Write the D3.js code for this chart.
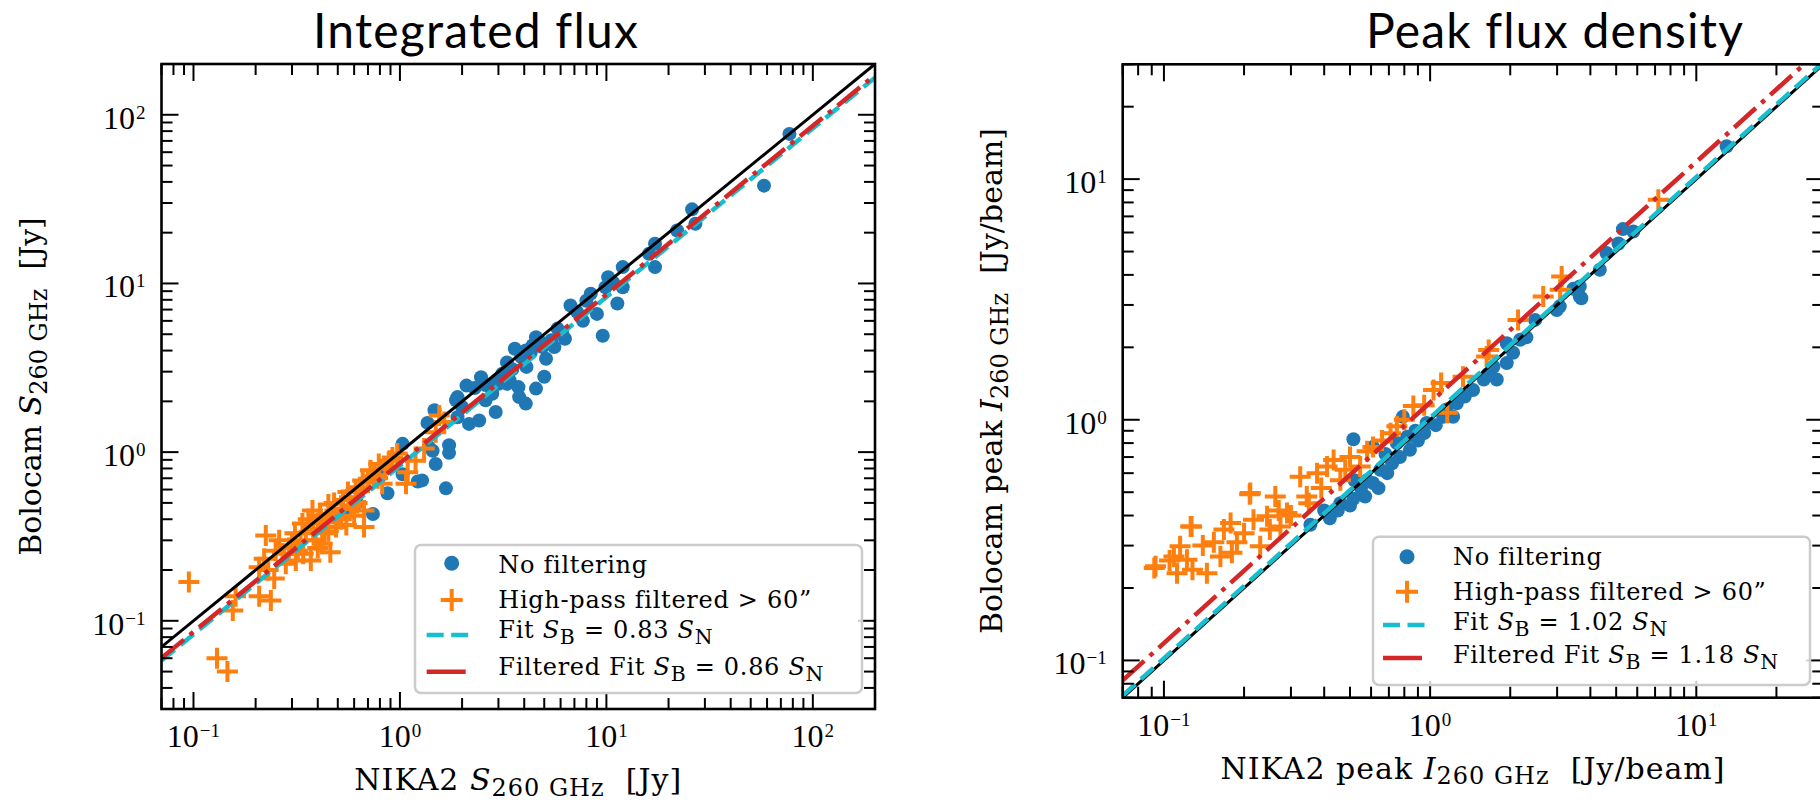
<!DOCTYPE html>
<html><head><meta charset="utf-8">
<script src="https://cdn.jsdelivr.net/npm/d3@7/dist/d3.min.js"></script>
<style>body{margin:0;background:#fff}text{white-space:pre}</style>
</head><body>
<svg id="c" width="1820" height="803" xmlns="http://www.w3.org/2000/svg"></svg>
<script>
// ---------------- DATA ----------------
// Integrated flux: [NIKA2, Bolocam] in Jy
const intNoFilt = [
 [77,77],[58,38],[26,27.5],[27,22.6],[22,20.6],[17.2,17.2],[16.1,15],[17.2,12.5],[12,12.5],[10.2,10.9],
 [9.9,9.5],[12,9.5],[8.4,8.7],[11.3,7.6],[6.7,7.4],[9,6.6],[9.6,4.9],[7.7,6.0],[6.1,5.1],[5.4,4.6],
 [4.56,4.8],[4.4,4.3],[6.3,4.7],[5.0,2.8],[3.87,3.66],[3.6,4.1],[4.1,3.2],[3.4,2.66],[3.75,2.43],[4.56,2.38],
 [3.0,2.54],[2.47,2.78],[2.1,2.48],[1.9,2.12],[5.1,3.58],[4.07,4.0],[4.07,1.94],[3.78,2.12],[3.3,2.54],[3.13,2.92],
 [2.91,1.73],[2.6,2.03],[2.8,2.22],[2.42,1.54],[2.16,1.47],[1.87,2.03],[2.0,1.85],[1.9,1.61],[1.47,1.77],[1.36,1.49],
 [1.73,1.1],[1.73,0.99],[1.44,1.02],[1.49,0.85],[1.03,1.12],[1.22,0.67],[1.67,0.61],[0.87,0.57],[1.03,0.74],[0.74,0.43],
 [1.38,1.07],[1.28,0.68],[4.8,4.5],[5.8,5.4],[7.2,6.8],[3.3,3.4],[2.3,2.4],[0.62,0.5],[0.55,0.45],[0.8,0.72],
 [4.3,3.9],[4.9,4.2],[5.6,4.2],[3.5,3.1],[2.6,2.5],[8.0,7.9],[10.8,10.1],[2.9,2.6]
];
const intFilt = [
 [0.095,0.17],[0.13,0.06],[0.146,0.05],[0.155,0.115],[0.16,0.14],[0.208,0.14],[0.237,0.132],[0.246,0.178],[0.224,0.32],[0.22,0.233],
 [0.208,0.208],[0.25,0.26],[0.28,0.218],[0.313,0.228],[0.37,0.228],[0.30,0.28],[0.337,0.377],[0.377,0.45],[0.46,0.255],[0.42,0.286],
 [0.45,0.49],[0.49,0.36],[0.52,0.46],[0.57,0.54],[0.61,0.59],[0.60,0.42],[0.67,0.36],[0.67,0.45],[0.66,0.68],[0.72,0.78],
 [0.79,0.85],[0.82,0.65],[0.89,0.89],[0.97,0.98],[1.07,0.65],[1.09,0.76],[1.19,0.89],[1.31,1.05],[1.49,1.31],[1.64,1.51],
 [1.55,1.65],[0.26,0.3],[0.29,0.27],[0.31,0.33],[0.33,0.3],[0.35,0.33],[0.36,0.4],[0.38,0.35],[0.4,0.38],[0.41,0.42],
 [0.43,0.33],[0.44,0.4],[0.47,0.43],[0.48,0.5],[0.5,0.41],[0.53,0.52],[0.55,0.37],[0.56,0.58],[0.58,0.48],[0.62,0.5],
 [0.64,0.62],[0.7,0.66],[0.75,0.72],[0.78,0.7],[0.85,0.8],[0.92,0.93],[0.23,0.2],[0.27,0.25],[0.32,0.26],[0.39,0.3],
 [0.45,0.34],[0.52,0.4],[0.34,0.25],[0.4,0.27]
];
// Peak flux density: [NIKA2, Bolocam] in Jy/beam
const peakNoFilt = [
 [13,13.7],[5.8,6.06],[5.3,6.2],[5.1,5.4],[4.6,4.93],[4.34,4.2],[3.65,3.58],[3.7,3.2],[3.45,3.5],[3.07,2.96],
 [0.515,0.83],[0.42,0.39],[0.355,0.366],[0.46,0.45],[0.515,0.47],[0.57,0.48],[0.61,0.546],[0.69,0.6],[0.61,0.77],[0.77,0.70],
 [0.84,0.75],[0.79,1.03],[0.97,0.97],[1.12,1.03],[1.22,1.03],[1.26,1.17],[1.45,1.33],[1.59,1.47],[1.78,1.47],[1.73,1.66],
 [1.94,1.72],[1.94,2.08],[2.18,2.15],[2.48,2.6],[2.99,2.86],[3.65,3.25],[0.45,0.42],[0.5,0.44],[0.55,0.52],[0.58,0.56],
 [0.65,0.62],[0.72,0.66],[0.68,0.72],[0.75,0.8],[0.82,0.85],[0.88,0.9],[0.9,0.82],[0.95,0.88],[1.05,0.95],[0.52,0.56],
 [0.64,0.52],[0.4,0.42],[1.15,1.1],[1.35,1.25],[1.65,1.55],[2.3,2.2],[2.05,1.9]
];
const peakFilt = [
 [0.093,0.246],[0.109,0.27],[0.115,0.298],[0.112,0.23],[0.126,0.36],[0.122,0.262],[0.128,0.238],[0.105,0.26],[0.145,0.23],[0.154,0.31],
 [0.163,0.27],[0.168,0.35],[0.178,0.372],[0.188,0.31],[0.2,0.338],[0.211,0.496],[0.217,0.384],[0.23,0.298],[0.244,0.397],[0.262,0.48],
 [0.274,0.36],[0.29,0.41],[0.325,0.58],[0.344,0.48],[0.376,0.6],[0.41,0.64],[0.434,0.68],[0.46,0.56],[0.5,0.70],[0.546,0.64],
 [0.61,0.77],[0.71,0.88],[0.75,0.94],[0.865,1.14],[1.03,1.33],[1.1,1.42],[1.16,1.07],[1.33,1.51],[1.63,1.83],[1.66,1.95],
 [2.14,2.6],[2.66,3.25],[3.08,3.47],[7.2,8.2],[3.12,3.94],[0.092,0.242],[0.127,0.36],[0.21,0.49],[0.14,0.3],[0.18,0.28],
 [0.25,0.35],[0.3,0.4],[0.35,0.45],[0.27,0.42],[0.39,0.52],[0.48,0.62],[0.58,0.74],[0.66,0.82],[0.8,1.0],[0.95,1.15]
];
const intFitSlope = 0.83, intFiltFitSlope = 0.86;
const peakFitSlope = 1.02, peakFiltFitSlope = 1.18;
const titles = ["Integrated flux", "Peak flux density"];
const xTickVals = [0.1, 1, 10, 100];
const tickExps = {0.1:"\u22121", 1:"0", 10:"1", 100:"2"};

// ---------------- DRAW ----------------
const svg = d3.select('#c');
const C = {blue:'#1f77b4', orange:'#ff7f0e', cyan:'#17becf', red:'#d62728'};
const SERIF = "'Liberation Serif', serif";
const WIDE = "'DejaVu Serif', serif";

function rich(sel, segs, size, subR, subShift){
  let shift = 0;
  segs.forEach(s=>{
    const small = s.k==='sub'||s.k==='sup';
    const target = s.k==='sub' ? size*subShift : (s.k==='sup' ? -size*0.33 : 0);
    const ts = sel.append('tspan').text(s.t).attr('dy', target-shift)
      .attr('font-size', small ? size*subR : size);
    if(s.k==='i') ts.attr('font-style','italic');
    shift = target;
  });
}
function eqSegs(prefix, slope){
  return [{t:prefix},{t:'S',k:'i'},{t:'B',k:'sub'},{t:' = '+slope.toFixed(2)+' '},{t:'S',k:'i'},{t:'N',k:'sub'}];
}

const panels = [
 {title:titles[0], tx:476, xDom:[0.07,200], yDom:[0.03,200], xr:[161.5,875], yr:[709,64],
  blue:intNoFilt, orange:intFilt, fit:intFitSlope, ffit:intFiltFitSlope, id:'a',
  xlab:[{t:'NIKA2 '},{t:'S',k:'i'},{t:'260 GHz',k:'sub'},{t:'  [Jy]'}],
  ylab:[{t:'Bolocam '},{t:'S',k:'i'},{t:'260 GHz',k:'sub'},{t:'  [Jy]'}], ylx:41,
  leg:{x0:415,x1:862,y0:545,y1:693, rows:[563.3,600,635,671.7], base:[573.3,608.3,638.3,675], mx:451.7, h0:426.7, tx:498.3}},
 {title:titles[1], tx:1555, xDom:[0.07,30], yDom:[0.07,30], xr:[1122.7,1823.3], yr:[697.7,64.3],
  blue:peakNoFilt, orange:peakFilt, fit:peakFitSlope, ffit:peakFiltFitSlope, id:'b',
  xlab:[{t:'NIKA2 peak '},{t:'I',k:'i'},{t:'260 GHz',k:'sub'},{t:'  [Jy/beam]'}],
  ylab:[{t:'Bolocam peak '},{t:'I',k:'i'},{t:'260 GHz',k:'sub'},{t:'  [Jy/beam]'}], ylx:1002,
  leg:{x0:1373,x1:1810,y0:536.7,y1:685, rows:[556.7,591.7,625,658], base:[565,600,630,663.3], mx:1407, h0:1383, tx:1453}}
];

function plusPath(s){return `M${-s},0H${s}M0,${-s}V${s}`;}

panels.forEach(p=>{
  const x = d3.scaleLog().domain(p.xDom).range(p.xr);
  const y = d3.scaleLog().domain(p.yDom).range(p.yr);
  const g = svg.append('g');
  g.append('clipPath').attr('id','clip'+p.id).append('rect')
    .attr('x',p.xr[0]).attr('y',p.yr[1]).attr('width',p.xr[1]-p.xr[0]).attr('height',p.yr[0]-p.yr[1]);
  const plot = g.append('g').attr('clip-path',`url(#clip${p.id})`);
  // scatter
  plot.selectAll('circle').data(p.blue).join('circle')
    .attr('cx',d=>x(d[0])).attr('cy',d=>y(d[1])).attr('r',7).attr('fill',C.blue);
  plot.selectAll('path.pl').data(p.orange).join('path').attr('class','pl')
    .attr('transform',d=>`translate(${x(d[0])},${y(d[1])})`).attr('d',plusPath(10.5))
    .attr('stroke',C.orange).attr('stroke-width',4).attr('fill','none');
  // lines
  const xs = p.xDom;
  const line = d3.line().x(d=>x(d[0])).y(d=>y(d[1]));
  plot.append('path').attr('d',line(xs.map(v=>[v,v]))).attr('stroke','#000').attr('stroke-width',3).attr('fill','none');
  plot.append('path').attr('d',line(xs.map(v=>[v,v*p.fit]))).attr('stroke',C.cyan).attr('stroke-width',4.5)
    .attr('stroke-dasharray','17,7.5').attr('fill','none');
  plot.append('path').attr('d',line(xs.map(v=>[v,v*p.ffit]))).attr('stroke',C.red).attr('stroke-width',4.5)
    .attr('stroke-dasharray','29,7.5,4.5,7.5').attr('fill','none');

  // ticks
  const tk = g.append('g').attr('stroke','#000').attr('stroke-width',2);
  function ticks(dom){const o=[];for(let e=-3;e<=3;e++)for(let k=1;k<=9;k++){const v=k*Math.pow(10,e);if(v>=dom[0]*0.999&&v<=dom[1]*1.001)o.push({v,M:k===1});}return o;}
  ticks(p.xDom).forEach(t=>{
    const L = t.M?17:11, xx=x(t.v);
    tk.append('line').attr('x1',xx).attr('x2',xx).attr('y1',p.yr[0]).attr('y2',p.yr[0]-L);
    tk.append('line').attr('x1',xx).attr('x2',xx).attr('y1',p.yr[1]).attr('y2',p.yr[1]+L);
  });
  ticks(p.yDom).forEach(t=>{
    const L = t.M?17:11, yy=y(t.v);
    tk.append('line').attr('y1',yy).attr('y2',yy).attr('x1',p.xr[0]).attr('x2',p.xr[0]+L);
    tk.append('line').attr('y1',yy).attr('y2',yy).attr('x1',p.xr[1]).attr('x2',p.xr[1]-L);
  });
  g.append('rect').attr('x',p.xr[0]).attr('y',p.yr[1]).attr('width',p.xr[1]-p.xr[0]).attr('height',p.yr[0]-p.yr[1])
    .attr('fill','none').attr('stroke','#000').attr('stroke-width',2.6);

  // tick labels
  xTickVals.filter(v=>v>=p.xDom[0]&&v<=p.xDom[1]).forEach(v=>{
    const t = g.append('text').attr('x',x(v)).attr('y',p.yr[0]+38).attr('text-anchor','middle')
      .attr('font-family',SERIF).attr('font-size',32);
    t.append('tspan').text('10');
    t.append('tspan').text(tickExps[v]).attr('font-size',19).attr('dy',-10).attr('dx',1);
  });
  xTickVals.filter(v=>v>=p.yDom[0]&&v<=p.yDom[1]).forEach(v=>{
    const t = g.append('text').attr('x',p.xr[0]-16).attr('y',y(v)+14).attr('text-anchor','end')
      .attr('font-family',SERIF).attr('font-size',32);
    t.append('tspan').text('10');
    t.append('tspan').text(tickExps[v]).attr('font-size',19).attr('dy',-10).attr('dx',1);
  });

  // axis labels
  const xl = g.append('text').attr('x',(p.xr[0]+p.xr[1])/2).attr('y',p.yr[0]+81)
    .attr('text-anchor','middle').attr('font-family',WIDE).attr('font-size',30).attr('letter-spacing',1.0);
  rich(xl,p.xlab,30,0.8,0.19);
  const yc = (p.yr[0]+p.yr[1])/2;
  const yl = g.append('text').attr('transform',`translate(${p.ylx},${yc}) rotate(-90)`)
    .attr('text-anchor','middle').attr('font-family',WIDE).attr('font-size',30).attr('letter-spacing',0);
  rich(yl,p.ylab,30,0.8,0.19);

  // title
  g.append('text').attr('x',p.tx).attr('y',47.5).attr('text-anchor','middle')
    .attr('font-family','Lato, sans-serif').attr('font-size',48).attr('letter-spacing',1.2).text(p.title);

  // legend
  const L = p.leg;
  const lg = g.append('g');
  lg.append('rect').attr('x',L.x0).attr('y',L.y0).attr('width',L.x1-L.x0).attr('height',L.y1-L.y0)
    .attr('rx',6).attr('fill','#fff').attr('fill-opacity',0.8).attr('stroke','#cccccc').attr('stroke-width',2.5);
  lg.append('circle').attr('cx',L.mx).attr('cy',L.rows[0]).attr('r',7.5).attr('fill',C.blue);
  lg.append('path').attr('transform',`translate(${L.mx},${L.rows[1]})`).attr('d',plusPath(11))
    .attr('stroke',C.orange).attr('stroke-width',4).attr('fill','none');
  lg.append('line').attr('x1',L.h0).attr('x2',L.h0+48).attr('y1',L.rows[2]).attr('y2',L.rows[2])
    .attr('stroke',C.cyan).attr('stroke-width',4.5).attr('stroke-dasharray','17,7.5');
  lg.append('line').attr('x1',L.h0).attr('x2',L.h0+39).attr('y1',L.rows[3]).attr('y2',L.rows[3])
    .attr('stroke',C.red).attr('stroke-width',4.5);
  const lt = (i,segs)=>{const t=lg.append('text').attr('x',L.tx).attr('y',L.base[i]).attr('font-family',WIDE)
      .attr('font-size',24).attr('letter-spacing',0.7); rich(t,segs,24,0.85,0.24);};
  lt(0,[{t:'No filtering'}]);
  lt(1,[{t:'High-pass filtered > 60\u201d'}]);
  lt(2,eqSegs('Fit ',p.fit));
  lt(3,eqSegs('Filtered Fit ',p.ffit));
});
</script>
</body></html>
